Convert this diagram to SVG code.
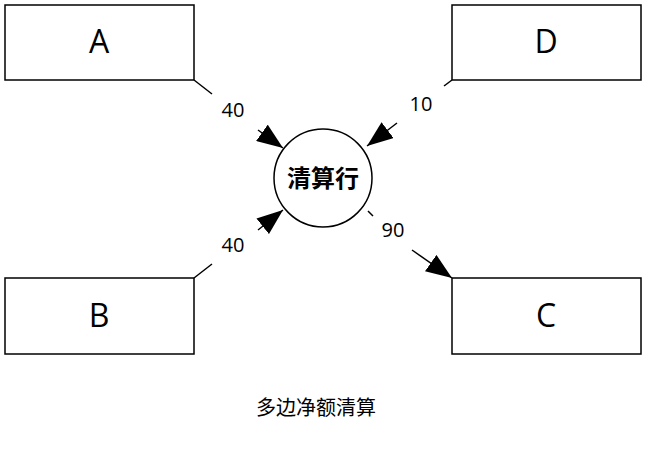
<svg xmlns="http://www.w3.org/2000/svg" width="647" height="462" viewBox="0 0 647 462">
<style>
.box{fill:#fff;stroke:#000;stroke-width:1.5}
.lbl{font-family:"Open Sans","Noto Sans",sans-serif;font-size:32px;text-anchor:middle;fill:#000}
.el{font-family:"Open Sans","Noto Sans",sans-serif;font-size:20px;text-anchor:middle;fill:#000}
.ln{stroke:#000;stroke-width:1.5;fill:none}
</style>
<defs>
<marker id="a" viewBox="0 0 26 20" refX="26" refY="10" markerWidth="26" markerHeight="20" markerUnits="userSpaceOnUse" orient="auto">
<path d="M0,0 L26,10 L0,20 z" fill="#000"/>
</marker>
</defs>
<rect width="647" height="462" fill="#fff"/>
<g id="A"><rect class="box" x="5" y="5" width="189" height="75"/><text class="lbl" x="99" y="53">A</text></g>
<g id="D"><rect class="box" x="452" y="5" width="189" height="75"/><text class="lbl" x="546" y="53">D</text></g>
<g id="B"><rect class="box" x="5" y="278" width="189" height="76"/><text class="lbl" x="99" y="327">B</text></g>
<g id="C"><rect class="box" x="452" y="278" width="189" height="76"/><text class="lbl" x="546" y="327">C</text></g>
<g id="hub"><circle cx="323" cy="178" r="49" fill="#fff" stroke="#000" stroke-width="1.5"/><text x="323" y="187" font-family="'Noto Sans CJK SC',sans-serif" font-size="24" font-weight="bold" text-anchor="middle">清算行</text></g>
<g id="connectors">
<line class="ln" x1="194" y1="80" x2="212" y2="94"/><line class="ln" x1="258" y1="130" x2="283" y2="148" marker-end="url(#a)"/>
<text class="el" x="233" y="117">40</text>
<line class="ln" x1="452" y1="80" x2="444" y2="86"/><line class="ln" x1="397" y1="123" x2="367" y2="146" marker-end="url(#a)"/>
<text class="el" x="421" y="111">10</text>
<line class="ln" x1="194" y1="278" x2="212" y2="264"/><line class="ln" x1="258" y1="230" x2="283" y2="210" marker-end="url(#a)"/>
<text class="el" x="233" y="252">40</text>
<line class="ln" x1="368" y1="211" x2="373" y2="216"/><line class="ln" x1="412" y1="250" x2="452" y2="278" marker-end="url(#a)"/>
<text class="el" x="393" y="237">90</text>
</g>
<text x="316" y="415" font-family="'Noto Sans CJK SC',sans-serif" font-size="20" text-anchor="middle">多边净额清算</text>
</svg>
